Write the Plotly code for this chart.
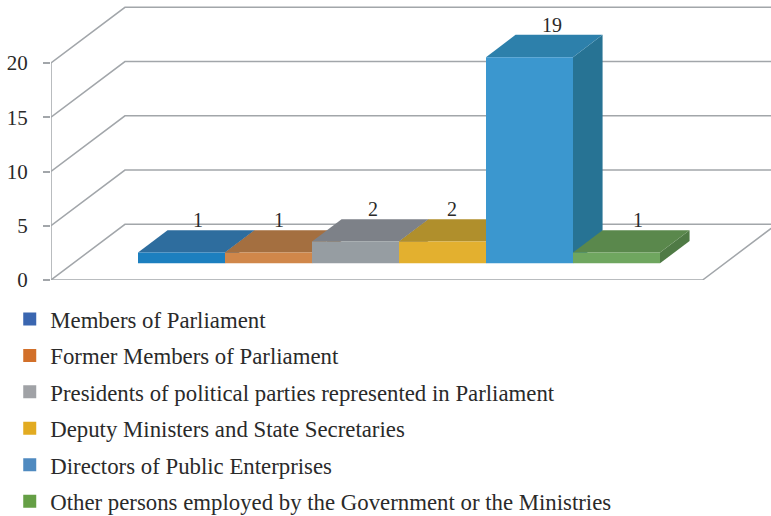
import plotly.graph_objects as go

# Chart data
categories = [
    "Members of Parliament",
    "Former Members of Parliament",
    "Presidents of political parties represented in Parliament",
    "Deputy Ministers and State Secretaries",
    "Directors of Public Enterprises",
    "Other persons employed by the Government or the Ministries",
]
values = [1, 1, 2, 2, 19, 1]
y_ticks = [0, 5, 10, 15, 20]

# Colours for each face of the boxes and for the legend swatches
front_colors = ["#1c7fbf", "#d0874a", "#969da2", "#e3b02f", "#3b97cf", "#6fa65f"]
top_colors = ["#2e6d9e", "#a46f40", "#7d8188", "#b08f2c", "#2d80ab", "#5a884c"]
side_colors = ["#27608c", "#8f5f36", "#6c7076", "#997c26", "#277394", "#4f7a45"]
legend_colors = ["#3a66b0", "#d2702a", "#a0a2a6", "#e2ab21", "#4f8ac0", "#659f45"]
LINE = "#a2a6aa"
INK = "#2a2a2a"
FONT = "Liberation Serif"

# Oblique projection: depth z in 0..1 shifts a point right and up, in axis units
DX, DY = 0.85, 5.134
FLOOR_W = 7.49
BAR_X0 = 0.745
Z_FRONT, Z_BACK = 0.3, 0.7
LABEL_NUDGE = [1.7, -4.3, 2.7, -5.3, 7.4, 6.4]


def proj(x, v, z):
    return x + z * DX, v + z * DY


def polygon(points):
    pts = [proj(*p) for p in points] + [proj(*points[0])]
    return [p[0] for p in pts], [p[1] for p in pts]


def add_line(fig, points):
    xs, ys = zip(*[proj(*p) for p in points])
    fig.add_trace(go.Scatter(x=xs, y=ys, mode="lines", showlegend=False, hoverinfo="skip",
                             cliponaxis=False, line=dict(color=LINE, width=1.5)))


fig = go.Figure()

# Back wall, side wall and floor
for t in y_ticks:
    add_line(fig, [(0, t, 0), (0, t, 1), (FLOOR_W, t, 1)])
add_line(fig, [(0, 0, 0), (0, y_ticks[-1], 0)])
add_line(fig, [(0, 0, 0), (FLOOR_W, 0, 0), (FLOOR_W, 0, 1)])

# Side and top faces, painted left to right on the base axes
for i, v in enumerate(values):
    x0, x1 = BAR_X0 + i, BAR_X0 + i + 1
    sx, sy = polygon([(x1, 0, Z_FRONT), (x1, 0, Z_BACK), (x1, v, Z_BACK), (x1, v, Z_FRONT)])
    fig.add_trace(go.Scatter(x=sx, y=sy, mode="lines", fill="toself", fillcolor=side_colors[i],
                             line=dict(width=0), showlegend=False, hoverinfo="skip"))
    tx, ty = polygon([(x0, v, Z_FRONT), (x1, v, Z_FRONT), (x1, v, Z_BACK), (x0, v, Z_BACK)])
    fig.add_trace(go.Scatter(x=tx, y=ty, mode="lines", fill="toself", fillcolor=top_colors[i],
                             line=dict(width=0), showlegend=False, hoverinfo="skip"))

# Front faces on an overlaying pair of axes, so they always sit above the depth faces
for i, v in enumerate(values):
    fig.add_trace(go.Bar(x=[BAR_X0 + i + 0.5 + Z_FRONT * DX], y=[v], base=[Z_FRONT * DY], width=1,
                         marker=dict(color=front_colors[i], line=dict(width=0)),
                         showlegend=False, name=categories[i], xaxis="x2", yaxis="y2"))

# Legend entries
for name, color in zip(categories, legend_colors):
    fig.add_trace(go.Scatter(x=[None], y=[None], mode="markers", name=name, legendgroup=name,
                             marker=dict(symbol="square", size=13, color=color)))

# Value labels above the rear edge of each box
annotations = [
    dict(x=proj(BAR_X0 + i + 0.5, v, 0.5)[0], y=proj(0, v, Z_BACK)[1],
         text=str(v), showarrow=False, xref="x", yref="y", yanchor="bottom",
         xshift=LABEL_NUDGE[i], yshift=-3, font=dict(family=FONT, size=20, color=INK))
    for i, v in enumerate(values)
]

x_range = [0, 720 / 87]
y_range = [0, 280 / 10.85]
fig.update_layout(
    width=771, height=516, autosize=False,
    margin=dict(l=51, r=0, t=0, b=236, pad=0, autoexpand=False),
    paper_bgcolor="white", plot_bgcolor="white", barmode="overlay",
    font=dict(family=FONT, color=INK, size=20),
    xaxis=dict(range=x_range, visible=False, fixedrange=True),
    yaxis=dict(range=y_range, tickvals=y_ticks, ticks="outside", ticklen=7, tickwidth=1.5,
               tickcolor=LINE, showgrid=False, zeroline=False, showline=False,
               tickfont=dict(family=FONT, size=21, color=INK), ticklabelstandoff=11,
               fixedrange=True),
    xaxis2=dict(range=x_range, visible=False, overlaying="x", fixedrange=True),
    yaxis2=dict(range=y_range, visible=False, overlaying="y", fixedrange=True),
    legend=dict(x=-0.058, xanchor="left", y=-0.063, yanchor="top", yref="paper",
                tracegroupgap=3.8, itemwidth=31, font=dict(family=FONT, size=22.8, color=INK),
                bgcolor="rgba(0,0,0,0)", itemclick=False, itemdoubleclick=False),
    annotations=annotations,
    showlegend=True,
)

fig.write_html("out.html")
